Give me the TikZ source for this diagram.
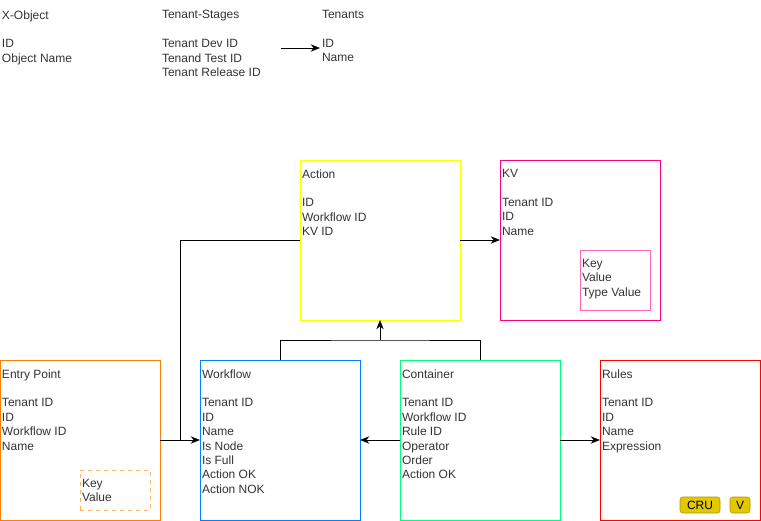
\documentclass[tikz,border=0pt]{standalone}
\usepackage{fontspec}
\setmainfont{Liberation Sans}
\usetikzlibrary{positioning,calc,arrows.meta}
\definecolor{textgray}{HTML}{333333}
\definecolor{actionyellow}{HTML}{FFFF00}
\definecolor{kvpink}{HTML}{FF0080}
\definecolor{kvinner}{HTML}{FF66B3}
\definecolor{entryorange}{HTML}{FF8000}
\definecolor{entryinner}{HTML}{FFB366}
\definecolor{workblue}{HTML}{007FFF}
\definecolor{contgreen}{HTML}{00FF80}
\definecolor{rulered}{HTML}{FF0000}
\definecolor{btnfill}{HTML}{E3C800}
\definecolor{btnline}{HTML}{B09500}
\begin{document}
\begin{tikzpicture}[x=0.75pt,y=-0.75pt,
  entity/.style={draw,line width=0.75pt,minimum width=120pt,minimum height=120pt,inner sep=0,outer sep=0},
  submap/.style={draw,line width=0.75pt,minimum width=52.5pt,inner sep=0,outer sep=0},
  fields/.style={anchor=north west,inner sep=0,outer sep=0,align=left,text=textgray,font=\fontsize{9}{10.8}\selectfont},
  button/.style={draw=btnline,fill=btnfill,rounded corners=2pt,minimum height=12pt,inner sep=0,font=\fontsize{9}{10.8}\selectfont},
  wire/.style={line width=0.75pt},
  link/.style={wire,-{Stealth[length=7pt,width=5.5pt]}}]
\useasboundingbox (0,0) rectangle (761,521);
% legend at the top
\node[fields] (xobj) at (2,10.5) {X-Object\\\strut\\ID\\Object Name};
\node[fields] (stages) at (162,10.5) {Tenant-Stages\\\strut\\Tenant Dev ID\\Tenand Test ID\\Tenant Release ID};
\node[fields] (tenants) at (322,10.5) {Tenants\\\strut\\ID\\Name};
\coordinate (stagesout) at (281,48);
\coordinate (tenantsin) at (320,48);
\draw[link] (stagesout) -- (tenantsin);
% entities
\node[entity,draw=actionyellow] (action) at (380,240) {};
\node[entity,draw=kvpink,right=30pt of action] (kv) {};
\node[entity,draw=workblue] (workflow) at (280,440) {};
\node[entity,draw=entryorange,left=30pt of workflow] (entry) {};
\node[entity,draw=contgreen,right=30pt of workflow] (container) {};
\node[entity,draw=rulered,right=30pt of container] (rules) {};
\node[submap,draw=kvinner,minimum height=45pt] (kvmap) at (615,280) {};
\node[submap,draw=entryinner,minimum height=30pt,dash pattern=on 3pt off 3pt] (entrymap) at (115,490) {};
% field lists
\node[fields,below right=7pt and 1.5pt of action.north west] (actiontext) {Action\\\strut\\ID\\Workflow ID\\KV ID};
\node[fields,below right=7pt and 1.5pt of kv.north west] (kvtext) {KV\\\strut\\Tenant ID\\ID\\Name};
\node[fields,below right=7pt and 1.5pt of kvmap.north west] (kvmaptext) {Key\\Value\\Type Value};
\node[fields,below right=7pt and 1.5pt of entry.north west] (entrytext) {Entry Point\\\strut\\Tenant ID\\ID\\Workflow ID\\Name};
\node[fields,below right=7pt and 1.5pt of entrymap.north west] (entrymaptext) {Key\\Value};
\node[fields,below right=7pt and 1.5pt of workflow.north west] (workflowtext) {Workflow\\\strut\\Tenant ID\\ID\\Name\\Is Node\\Is Full\\Action OK\\Action NOK};
\node[fields,below right=7pt and 1.5pt of container.north west] (containertext) {Container\\\strut\\Tenant ID\\Workflow ID\\Rule ID\\Operator\\Order\\Action OK};
\node[fields,below right=7pt and 1.5pt of rules.north west] (rulestext) {Rules\\\strut\\Tenant ID\\ID\\Name\\Expression};
\node[button,minimum width=30pt] (cru) at (700,505) {CRU};
\node[button,minimum width=15pt] (view) at (740,505) {V};
% connectors
\coordinate (joint) at ($(entry.east)!0.5!(workflow.west)$);
\coordinate (split) at ($(action.south)+(0,20)$);
\draw[wire] (action.west) -| (joint);
\draw[link] (entry) -- (workflow);
\draw[wire] (workflow.north) |- (split) -| (container.north);
\draw[link] (split) -- (action.south);
\draw[link] (action) -- (kv);
\draw[link] (container) -- (workflow);
\draw[link] (container) -- (rules);
\end{tikzpicture}
\end{document}
